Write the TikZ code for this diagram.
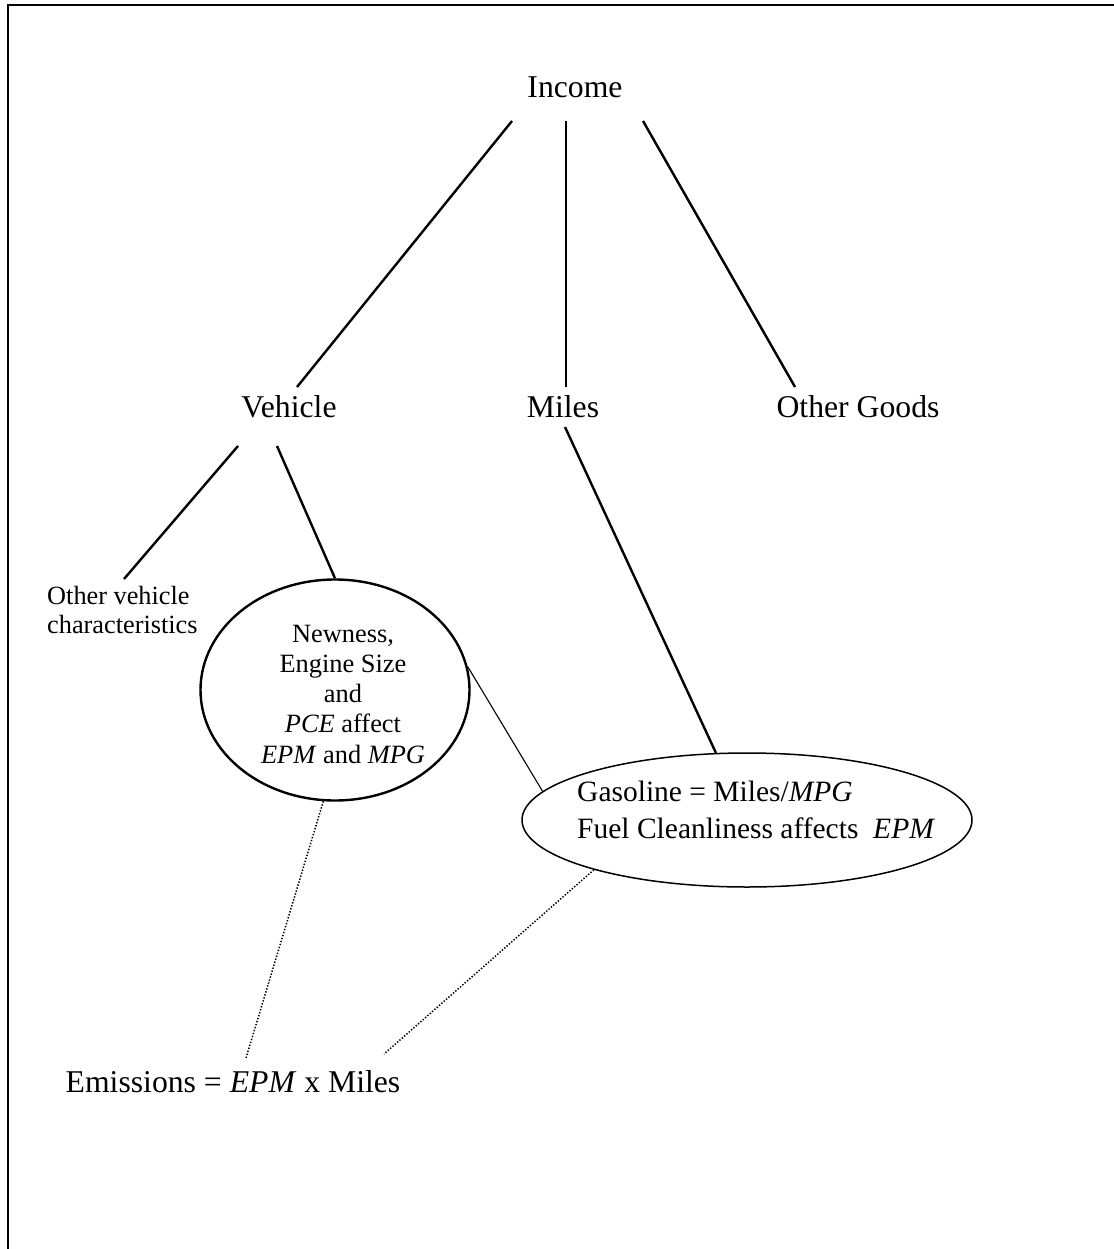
\documentclass[tikz,border=0pt]{standalone}
\usepackage{fontspec}
\setmainfont{Liberation Serif}
\usetikzlibrary{shapes.geometric}
\tikzset{
  big/.style={font=\fontsize{31.7}{37}\selectfont, inner sep=0pt},
  gasfont/.style={font=\fontsize{29.5}{37}\selectfont, inner sep=0pt, align=left},
  mid/.style={font=\fontsize{26.4}{30.25}\selectfont, inner sep=0pt, align=center},
  small/.style={font=\fontsize{26.3}{29}\selectfont, inner sep=0pt, align=left},
  branch/.style={line width=2.4pt},
  thinlink/.style={line width=1.1pt},
  dotlink/.style={line width=1.5pt, dash pattern=on 1.4pt off 1.7pt},
  bubble/.style={draw, ellipse, inner sep=0pt}
}
\begin{document}
\begin{tikzpicture}[x=1pt,y=-1pt]
\useasboundingbox (0,0) rectangle (1113,1249);
% frame
\draw[line width=2.6pt] (8,1260) -- (8,5) -- (1125,5);

% texts
\node[big, anchor=base] (income) at (575,98) {Income};
\node[big, anchor=base] (vehicle) at (289,417) {Vehicle};
\node[big, anchor=base] (miles) at (563,417) {Miles};
\node[big, anchor=base] (goods) at (858,417) {Other Goods};
\node[small, anchor=west] (other) at (47,610) {Other vehicle\\characteristics};

\node[bubble, line width=2.4pt, minimum width=269pt, minimum height=221pt] (veh) at (335,690) {};
\node[mid] (vehtxt) at (343,694) {Newness,\\Engine Size\\and\\\textit{PCE} affect\\\textit{EPM} and \textit{MPG}};

\node[bubble, line width=1.5pt, minimum width=450pt, minimum height=134pt] (gas) at (747,820) {};
\node[gasfont, anchor=west] (gastxt) at (577,810) {Gasoline = Miles/\textit{MPG}\\Fuel Cleanliness affects\ \ \textit{EPM}};

\node[big, anchor=base] (emis) at (233,1092) {Emissions = \textit{EPM} x Miles};

% connector end points
\coordinate (i1) at (512,121);
\coordinate (i2) at (566,121);
\coordinate (i3) at (643,121);
\coordinate (v0) at (297,387);
\coordinate (m0) at (566,387);
\coordinate (g0) at (795,387);
\coordinate (v1) at (238,446);
\coordinate (v2) at (277,446);
\coordinate (ov) at (124,579);
\coordinate (m1) at (565,427);
\coordinate (e1) at (246,1058);
\coordinate (e2) at (384,1054);

% connectors
\draw[branch] (i1) -- (v0);
\draw[branch] (i2) -- (m0);
\draw[branch] (i3) -- (g0);
\draw[branch] (v1) -- (ov);
\draw[branch] (v2) -- (veh.north);
\draw[branch] (m1) -- (gas);
\draw[thinlink] (veh.10) -- (gas.172);
\draw[dotlink] (veh.264) -- (e1);
\draw[dotlink] (gas.198) -- (e2);
\end{tikzpicture}
\end{document}
